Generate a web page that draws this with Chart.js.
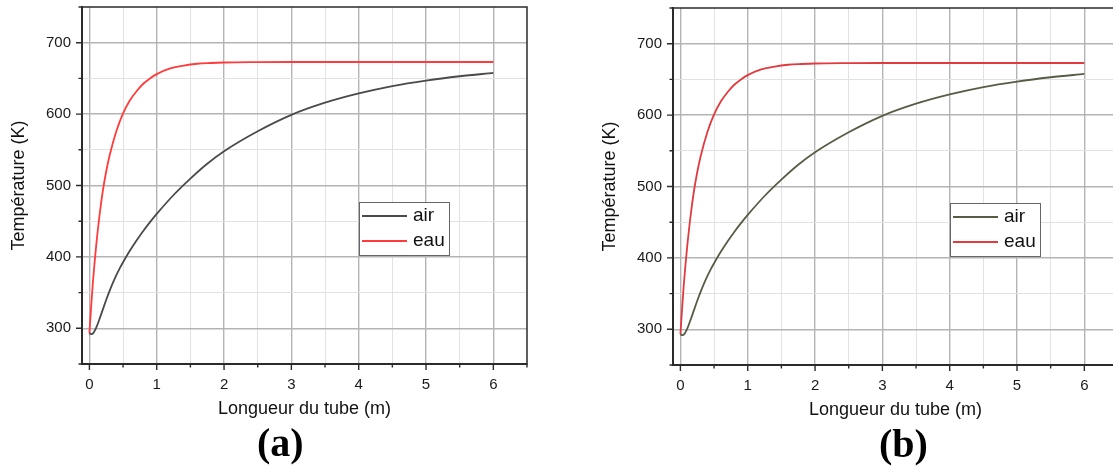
<!DOCTYPE html>
<html>
<head>
<meta charset="utf-8">
<script src="https://cdn.jsdelivr.net/npm/chart.js@4.4.0/dist/chart.umd.min.js"></script>
<style>
  body { margin: 0; background: #fff; width: 1113px; height: 468px; overflow: hidden; position: relative; }
  canvas { position: absolute; }
  #chartA { left: 0; top: 0; }
  #chartB { left: 591px; top: 1px; }
  .tag { position: absolute; font-family: 'Liberation Serif', 'Times New Roman', serif; font-weight: bold; font-size: 40px; color: #000; }
</style>
</head>
<body>
<canvas id="chartA" width="540" height="420"></canvas>
<canvas id="chartB" width="540" height="420"></canvas>
<div class="tag" style="left:257px; top:419px;">(a)</div>
<div class="tag" style="left:879px; top:420px;">(b)</div>
<script>
// values (x in m, T in K)
var airX = [0, 0.03, 0.06, 0.1, 0.15, 0.2, 0.25, 0.3, 0.35, 0.4, 0.45, 0.5, 0.6, 0.7, 0.8, 0.9, 1.0, 1.25, 1.5, 1.75, 2.0, 2.5, 3.0, 3.5, 4.0, 4.5, 5.0, 5.5, 6.0];
var airT = [293, 291.8, 293.5, 300.5, 313, 326.5, 340, 352.5, 364, 374.5, 384, 392.6, 408.6, 423.1, 436.4, 448.7, 460.2, 486.7, 509.7, 530.5, 548, 576, 599, 616, 629, 639.3, 647, 653, 657.7];
var eauX = [0, 0.025, 0.05, 0.075, 0.1, 0.15, 0.2, 0.25, 0.3, 0.4, 0.5, 0.6, 0.7, 0.8, 0.9, 1.0, 1.2, 1.4, 1.6, 1.8, 2.0, 2.5, 3.0, 4.0, 5.0, 6.0];
var eauT = [293, 329, 362, 390, 415, 458, 493, 520, 542, 576, 601, 619, 632, 642.5, 650, 656, 664, 668, 670.5, 671.6, 672.3, 672.8, 673, 673, 673, 673];
var seriesNames = ['air', 'eau'];
var xTickVals = [0, 0.5, 1, 1.5, 2, 2.5, 3, 3.5, 4, 4.5, 5, 5.5, 6, 6.5];
var yTickVals = [250, 300, 350, 400, 450, 500, 550, 600, 650, 700, 750];
var xMin = -0.11, xMax = 6.5, yMin = 250, yMax = 750;

Chart.defaults.font.family = "'Liberation Sans', Arial, sans-serif";
Chart.defaults.color = '#1a1a1a';

function pts(xs, ys) {
  return xs.map(function (v, i) { return { x: v, y: ys[i] }; });
}

var frameTicks = {
  id: 'frameTicks',
  afterDraw: function (chart) {
    var c = chart.ctx, a = chart.chartArea, x = chart.scales.x, y = chart.scales.y;
    c.save();
    c.strokeStyle = '#2b2b2b';
    c.lineWidth = 1.5;
    c.beginPath();
    c.moveTo(a.left, a.top); c.lineTo(a.right, a.top); c.lineTo(a.right, a.bottom);
    c.stroke();
    c.lineWidth = 1.4;
    c.beginPath();
    x.ticks.forEach(function (t) {
      var p = x.getPixelForValue(t.value);
      var len = (t.value % 1 === 0) ? 6 : 3.5;
      c.moveTo(p, a.bottom); c.lineTo(p, a.bottom + len);
    });
    y.ticks.forEach(function (t) {
      var p = y.getPixelForValue(t.value);
      var len = (t.value % 100 === 0) ? 6 : 3.5;
      c.moveTo(a.left, p); c.lineTo(a.left - len, p);
    });
    c.stroke();
    c.restore();
  }
};

var legendBox = {
  id: 'legendBox',
  afterDraw: function (chart) {
    var c = chart.ctx, a = chart.chartArea;
    var bx = a.left + 277, by = a.top + 195, bw = 90, bh = 53;
    c.save();
    c.fillStyle = '#fff';
    c.fillRect(bx, by, bw, bh);
    c.strokeStyle = '#666';
    c.lineWidth = 1;
    c.strokeRect(bx + 0.5, by + 0.5, bw, bh);
    chart.data.datasets.forEach(function (ds, i) {
      var ly = by + 14 + i * 25;
      c.strokeStyle = ds.borderColor;
      c.lineWidth = 2;
      c.beginPath(); c.moveTo(bx + 3, ly); c.lineTo(bx + 48, ly); c.stroke();
      c.fillStyle = '#111';
      c.font = "19px 'Liberation Sans', Arial, sans-serif";
      c.textBaseline = 'middle';
      c.fillText(ds.label, bx + 54, ly);
    });
    c.restore();
  }
};

function makeChart(id, airColor, eauColor) {
  return new Chart(document.getElementById(id), {
    type: 'line',
    data: {
      datasets: [
        { label: seriesNames[0], data: pts(airX, airT), borderColor: airColor, borderWidth: 1.8, pointRadius: 0, cubicInterpolationMode: 'monotone', fill: false },
        { label: seriesNames[1], data: pts(eauX, eauT), borderColor: eauColor, borderWidth: 1.8, pointRadius: 0, cubicInterpolationMode: 'monotone', fill: false }
      ]
    },
    options: {
      responsive: false,
      animation: false,
      layout: { padding: { left: 0, top: 7, right: 13, bottom: 0 } },
      plugins: { legend: { display: false }, tooltip: { enabled: false } },
      scales: {
        x: {
          type: 'linear', min: xMin, max: xMax,
          afterBuildTicks: function (s) { s.ticks = xTickVals.map(function (v) { return { value: v }; }); },
          afterFit: function (s) { s.height = 56; s.paddingLeft = 0; s.paddingRight = 0; },
          ticks: {
            autoSkip: false, maxRotation: 0, padding: 12,
            font: { size: 15 },
            callback: function (v) { return v % 1 === 0 ? String(v) : ''; }
          },
          grid: {
            drawTicks: false,
            color: function (ctx) {
              var v = ctx.tick ? ctx.tick.value : 0;
              if (v >= xMax) return 'rgba(0,0,0,0)';
              return v % 1 === 0 ? '#b4b4b4' : '#e2e2e2';
            },
            lineWidth: function (ctx) { return ctx.tick && ctx.tick.value % 1 === 0 ? 1.4 : 1; }
          },
          border: { display: true, color: '#2b2b2b', width: 2 },
          title: { display: true, text: 'Longueur du tube (m)', font: { size: 18 }, padding: 0, color: '#111' }
        },
        y: {
          type: 'linear', min: yMin, max: yMax,
          afterBuildTicks: function (s) { s.ticks = yTickVals.map(function (v) { return { value: v }; }); },
          afterFit: function (s) { s.width = 82; s.paddingTop = 0; s.paddingBottom = 0; },
          ticks: {
            autoSkip: false, padding: 11,
            font: { size: 15 },
            callback: function (v) { return (v % 100 === 0 && v > yMin && v < yMax) ? String(v) : ''; }
          },
          grid: {
            drawTicks: false,
            color: function (ctx) {
              var v = ctx.tick ? ctx.tick.value : 0;
              if (v <= yMin || v >= yMax) return 'rgba(0,0,0,0)';
              return v % 100 === 0 ? '#b4b4b4' : '#e2e2e2';
            },
            lineWidth: function (ctx) { return ctx.tick && ctx.tick.value % 100 === 0 ? 1.4 : 1; }
          },
          border: { display: true, color: '#2b2b2b', width: 2 },
          title: { display: true, text: 'Température (K)', font: { size: 18 }, padding: { top: 8, bottom: 0 }, color: '#111' }
        }
      }
    },
    plugins: [frameTicks, legendBox]
  });
}

makeChart('chartA', '#4a4a4a', '#ff3b3b');
makeChart('chartB', '#5a5b45', '#e23a3e');
</script>
</body>
</html>
